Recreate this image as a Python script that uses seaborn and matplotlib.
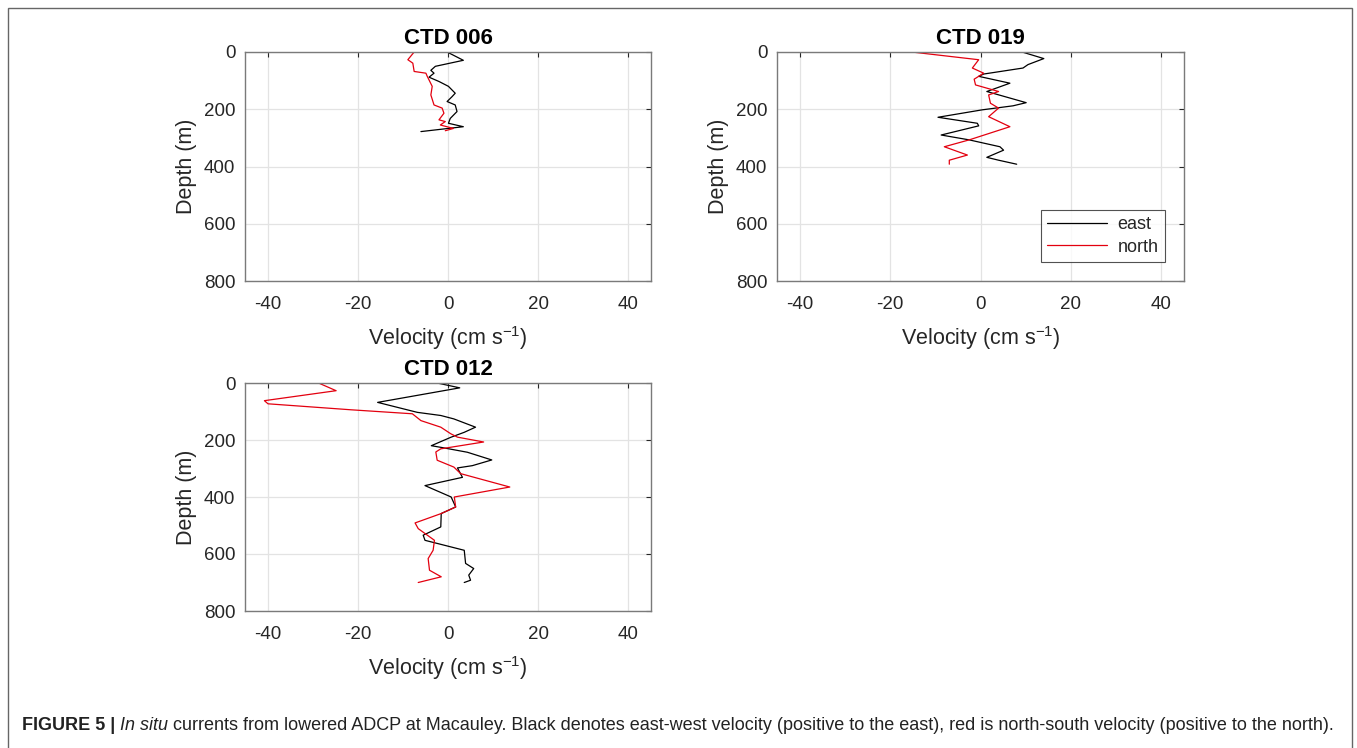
import matplotlib
matplotlib.use("Agg")
import matplotlib.pyplot as plt
from matplotlib import font_manager
from matplotlib.patches import Rectangle
import seaborn as sns
import pandas as pd

# ---------------- data ----------------
ctd006_east_depth = [0, 29, 50, 64, 74, 88, 103, 120, 144, 156, 173, 185, 208, 232, 249, 261, 278]
ctd006_east_vel = [-0.2, 3.4, -2.8, -3.8, -3.1, -4.2, -2.0, 0.1, 1.6, 0.9, -0.2, 1.6, 2.0, 0.5, 0.1, 3.4, -6.0]
ctd006_north_depth = [0, 27, 39, 68, 74, 85, 120, 150, 185, 196, 214, 237, 243, 255, 267, 275]
ctd006_north_vel = [-7.5, -8.9, -7.8, -7.5, -4.9, -4.6, -3.5, -3.8, -3.1, -1.3, -0.9, -2.0, -0.6, -1.7, 1.2, -0.6]

ctd019_east_depth = [0, 23, 44, 56, 77, 85, 109, 138, 177, 188, 202, 228, 249, 258, 290, 307, 331, 343, 368, 378, 392]
ctd019_east_vel = [9.2, 14.0, 10.5, 9.4, 0.7, -0.4, 6.5, 1.4, 10.1, 7.2, 0.4, -9.4, -0.7, -0.4, -8.7, -2.5, 4.3, 5.1, 1.4, 4.0, 8.0]
ctd019_north_depth = [0, 27, 56, 74, 95, 115, 138, 150, 179, 196, 226, 261, 307, 331, 360, 378, 392]
ctd019_north_vel = [-15.2, -0.4, -1.8, 0.7, -1.4, -1.1, 4.0, 1.8, 2.2, 4.0, 1.8, 6.5, -2.5, -8.0, -2.9, -6.9, -6.9]

ctd012_east_depth = [0, 17, 68, 103, 114, 126, 155, 173, 190, 220, 226, 243, 270, 290, 298, 331, 360, 400, 435, 458, 505, 534, 552, 587, 633, 651, 674, 692, 700]
ctd012_east_vel = [-2.4, 2.6, -15.6, -6.8, -1.6, 1.3, 6.1, 3.6, 0.7, -3.7, -1.5, 4.3, 9.7, 5.4, 2.1, 3.2, -5.1, 0.7, 1.7, -1.5, -1.6, -5.5, -5.1, 3.6, 3.9, 5.7, 4.6, 5.0, 3.6]
ctd012_north_depth = [0, 27, 62, 73, 94, 108, 132, 155, 178, 190, 207, 231, 242, 271, 295, 318, 365, 400, 435, 458, 491, 511, 552, 587, 616, 657, 680, 700]
ctd012_north_vel = [-28.7, -24.8, -40.7, -39.9, -21.5, -7.9, -6.0, -1.6, 0.6, 2.1, 7.9, -1.6, -2.7, -2.4, 1.3, 2.8, 13.7, 1.4, 1.7, -1.5, -7.3, -6.6, -3.0, -3.3, -4.4, -4.1, -1.5, -6.6]

panel_titles = ["CTD 006", "CTD 019", "CTD 012"]
series_names = ["east", "north"]
x_ticks = [-40, -20, 0, 20, 40]
y_ticks = [0, 200, 400, 600, 800]
caption_parts = [("FIGURE 5 | ", "bold", "normal"),
                 ("In situ", "normal", "italic"),
                 (" currents from lowered ADCP at Macauley. Black denotes east-west velocity "
                  "(positive to the east), red is north-south velocity (positive to the north).",
                  "normal", "normal")]

# ---------------- style ----------------
sns.set_style("white")
plt.rcParams['font.family'] = ['Liberation Sans', 'DejaVu Sans']
plt.rcParams['mathtext.default'] = 'regular'

TXT = '#262626'
SPINE = '#7a7a7a'
GRID = '#e3e3e3'
RED = '#e3000f'

W, H = 1357, 748
fig = plt.figure(figsize=(W / 100, H / 100), dpi=100)


def fa(left, top, right, bottom):
    return [left / W, 1 - bottom / H, (right - left) / W, (bottom - top) / H]


axes_px = [(245, 52, 651, 281), (777, 52, 1184, 281), (245, 383, 651, 611)]
profiles = [
    (ctd006_east_vel, ctd006_east_depth, ctd006_north_vel, ctd006_north_depth),
    (ctd019_east_vel, ctd019_east_depth, ctd019_north_vel, ctd019_north_depth),
    (ctd012_east_vel, ctd012_east_depth, ctd012_north_vel, ctd012_north_depth),
]

for i, (box, prof, title) in enumerate(zip(axes_px, profiles, panel_titles)):
    ax = fig.add_axes(fa(*box))
    ev, ed, nv, nd = prof
    df = pd.concat([
        pd.DataFrame({"vel": ev, "depth": ed, "comp": series_names[0]}),
        pd.DataFrame({"vel": nv, "depth": nd, "comp": series_names[1]}),
    ], ignore_index=True)
    sns.lineplot(data=df, x="vel", y="depth", hue="comp", sort=False, estimator=None,
                 palette={"east": "black", "north": RED}, linewidth=0.9, ax=ax,
                 legend=(i == 1))
    ax.set_xlim(-45, 45)
    ax.set_ylim(800, 0)
    ax.set_xticks(x_ticks)
    ax.set_yticks(y_ticks)
    ax.set_xticklabels([str(t) for t in x_ticks])
    ax.set_yticklabels([str(t) for t in y_ticks])
    ax.grid(True, color=GRID, linewidth=0.9)
    ax.set_axisbelow(True)
    for s in ax.spines.values():
        s.set_visible(True)
        s.set_color(SPINE)
        s.set_linewidth(1.0)
    ax.tick_params(direction='in', length=3.5, width=0.8, color=TXT,
                   top=True, right=True, labelsize=13.5, labelcolor=TXT)
    ax.tick_params(axis='x', pad=11)
    ax.tick_params(axis='y', pad=7)
    ax.set_xlabel('Velocity (cm s$^{-1}$)', fontsize=15.5, color=TXT, labelpad=8)
    ax.set_ylabel('Depth (m)', fontsize=15.5, color=TXT, labelpad=5)
    ax.set_title(title, fontsize=16, fontweight='bold', color='black', pad=6)
    if i == 1:
        leg = ax.legend(loc='lower right', bbox_to_anchor=(0.953, 0.083), fontsize=13,
                        frameon=True, fancybox=False, handlelength=3.3,
                        borderpad=0.35, labelspacing=0.3, handletextpad=0.6,
                        borderaxespad=0)
        leg.get_frame().set_edgecolor(TXT)
        leg.get_frame().set_linewidth(0.8)
        leg.set_title(None)

# outer frame
fig.add_artist(Rectangle((8 / W, -0.01), (1352 - 8) / W, 1 - 8 / H + 0.01,
                         transform=fig.transFigure, fill=False,
                         edgecolor='#666666', linewidth=1.0))

# caption, laid out piece by piece and scaled to the reference width
avail = set(f.name for f in font_manager.fontManager.ttflist)
cap_font = ['Liberation Sans Narrow'] if 'Liberation Sans Narrow' in avail else ['Liberation Sans']
renderer = fig.canvas.get_renderer()


def draw_caption(fs):
    x = 22
    arts = []
    for txt, weight, style in caption_parts:
        t = fig.text(x / W, 1 - 730 / H, txt, fontsize=fs, fontweight=weight,
                     fontstyle=style, family=cap_font, color='#222222',
                     ha='left', va='baseline')
        bb = t.get_window_extent(renderer)
        x = x + bb.width
        arts.append(t)
    return arts, x


arts, xend = draw_caption(12)
target = 1338 - 22
fs = 12 * target / (xend - 22)
for a in arts:
    a.remove()
draw_caption(fs)

fig.savefig("out.png", dpi=100, facecolor='white')
